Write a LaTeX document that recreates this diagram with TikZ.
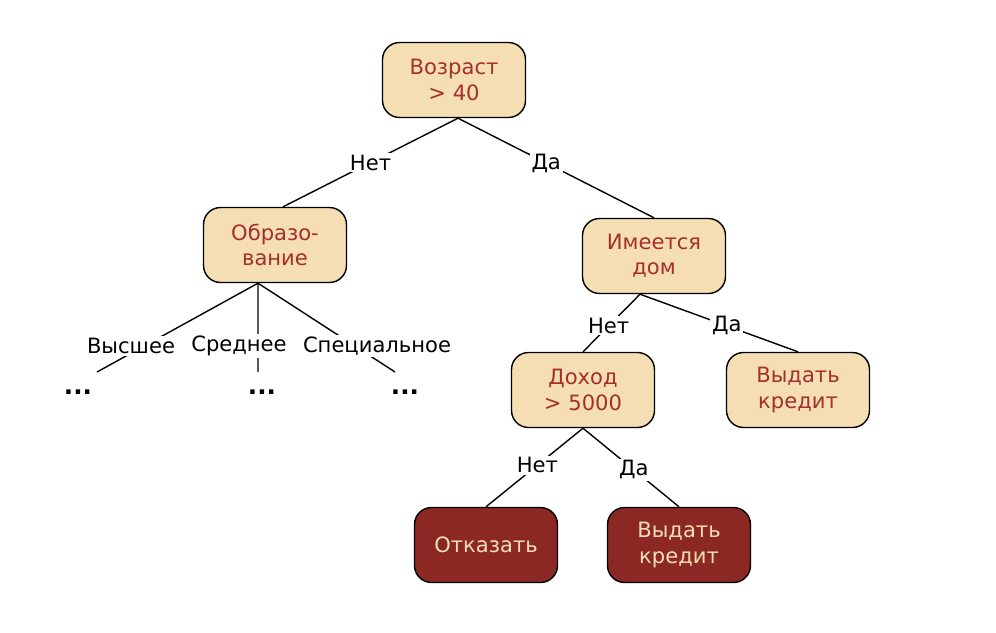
\documentclass[tikz,border=0pt]{standalone}
\usepackage{fontspec}
\setmainfont{DejaVu Sans}
\definecolor{boxtan}{HTML}{F5DEB3}
\definecolor{boxred}{HTML}{8B2824}
\definecolor{textred}{HTML}{A3302B}
\tikzset{
    question/.style={draw=black,line width=0.8pt,fill=boxtan,text=textred,rounded corners=0.34cm,
        minimum width=2.86cm,minimum height=1.5cm,align=center,font=\fontsize{12}{14.5}\selectfont},
    answer/.style={question,fill=boxred,text=boxtan},
    branch/.style={fill=white,inner sep=1pt,font=\fontsize{12}{14}\selectfont},
    edge/.style={line width=0.8pt},
    more/.style={font=\fontsize{14}{14}\bfseries\selectfont}
}
\begin{document}
\begin{tikzpicture}[x=0.02cm,y=-0.02cm]
                \useasboundingbox (0,0) rectangle (996,632);
                %% nodes
                \node[question] (age) at (454,80) {Возраст\\> 40};
                \node[question] (edu) at (275,245) {Образо-\\вание};
                \node[question] (house) at (654,256) {Имеется\\дом};
                \node[question] (income) at (583,390) {Доход\\> 5000};
                \node[question] (givea) at (798,390) {Выдать\\кредит};
                \node[answer] (refuse) at (486,545) {Отказать};
                \node[answer] (giveb) at (679,545) {Выдать\\кредит};
                %% age branches
                \draw[edge] ([xshift=0.08cm]age.south) -- ([xshift=0.16cm]edu.north) node[branch,pos=0.5] {Нет};
                \draw[edge] ([xshift=0.08cm]age.south) -- (house.north) node[branch,pos=0.45] {Да};
                %% education branches
                \coordinate (edufork) at ([xshift=-0.34cm]edu.south);
                \coordinate (higher) at (97,372);
                \coordinate (middle) at (258,372);
                \coordinate (special) at (395,372);
                \draw[edge] (edufork) -- (higher);
                \draw[edge] (edufork) -- (middle);
                \draw[edge] (edufork) -- (special);
                \node[branch] (lhigher) at (131,346) {Высшее};
                \node[branch] (lmiddle) at (239,346) {Среднее};
                \node[branch] (lspecial) at (377,346) {Специальное};
                \node[more] (dotsa) at (78,392) {...};
                \node[more] (dotsb) at (262,392) {...};
                \node[more] (dotsc) at (405,392) {...};
                %% house branches
                \draw[edge] ([xshift=-0.28cm]house.south) -- (income.north) node[branch,pos=0.55] {Нет};
                \draw[edge] ([xshift=-0.28cm]house.south) -- (givea.north) node[branch,pos=0.55] {Да};
                %% income branches
                \draw[edge] (income.south) -- (refuse.north) node[branch,pos=0.47] {Нет};
                \draw[edge] (income.south) -- (giveb.north) node[branch,pos=0.53] {Да};
            \end{tikzpicture}
\end{document}
